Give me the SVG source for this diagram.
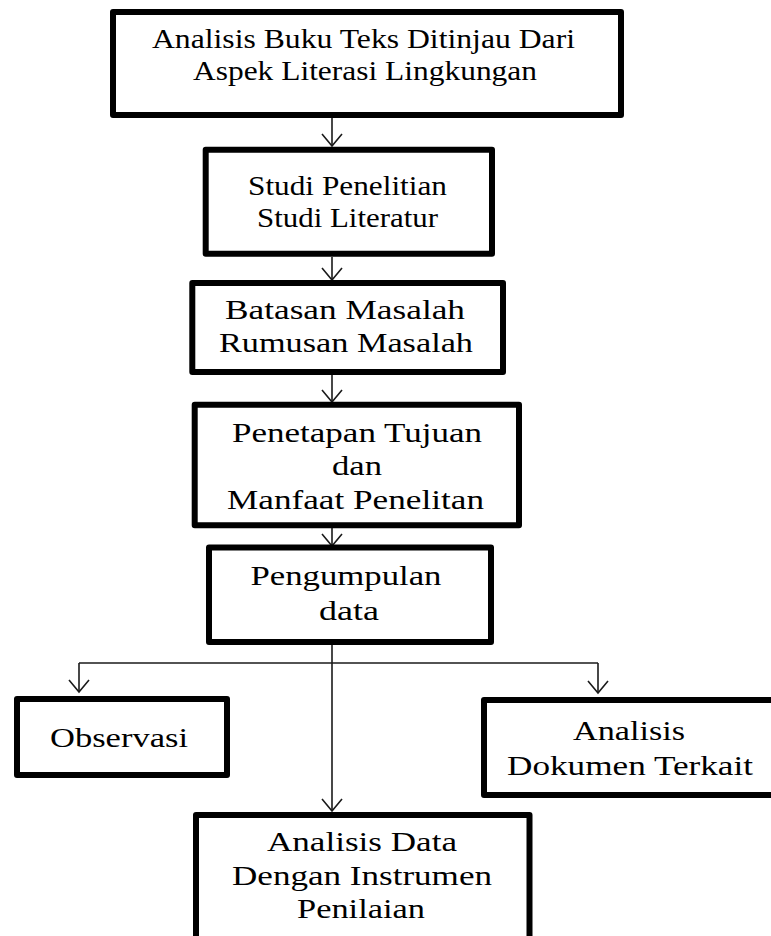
<svg xmlns="http://www.w3.org/2000/svg" width="771" height="936" viewBox="0 0 771 936">
  <style>
    .box { fill: #ffffff; stroke: #000000; stroke-width: 6; stroke-linejoin: round; }
    .lbl { font-family: "Liberation Serif", "Times New Roman", serif; font-size: 27px; fill: #000000; }
    .conn { fill: none; stroke: #1a1a1a; stroke-width: 1.6; }
  </style>
  <defs>
    <marker id="arr" viewBox="-14 -12 16 24" markerWidth="16" markerHeight="24" refX="0" refY="0" orient="auto" markerUnits="userSpaceOnUse">
      <path d="M -12 -10 L 0 0 L -12 10" fill="none" stroke="#1a1a1a" stroke-width="1.6"/>
    </marker>
  </defs>
  <rect width="771" height="936" fill="#ffffff"/>

  <g id="connectors">
    <line class="conn" x1="332" y1="118" x2="332" y2="146" marker-end="url(#arr)"/>
    <line class="conn" x1="332" y1="257" x2="332" y2="280" marker-end="url(#arr)"/>
    <line class="conn" x1="332" y1="375" x2="332" y2="402" marker-end="url(#arr)"/>
    <line class="conn" x1="332" y1="528" x2="332" y2="546" marker-end="url(#arr)"/>
    <line class="conn" x1="332" y1="645" x2="332" y2="811" marker-end="url(#arr)"/>
    <line class="conn" x1="79" y1="663" x2="598" y2="663"/>
    <line class="conn" x1="79" y1="663" x2="79" y2="692" marker-end="url(#arr)"/>
    <line class="conn" x1="598" y1="663" x2="598" y2="693" marker-end="url(#arr)"/>
  </g>

  <g id="n1">
    <rect class="box" x="113" y="12" width="508" height="103"/>
    <text class="lbl" x="152" y="48" textLength="423" lengthAdjust="spacingAndGlyphs">Analisis Buku Teks Ditinjau Dari</text>
    <text class="lbl" x="193" y="80" textLength="344" lengthAdjust="spacingAndGlyphs">Aspek Literasi  Lingkungan</text>
  </g>
  <g id="n2">
    <rect class="box" x="205.7" y="149.7" width="286.3" height="104"/>
    <text class="lbl" x="248" y="195" textLength="199" lengthAdjust="spacingAndGlyphs">Studi Penelitian</text>
    <text class="lbl" x="257" y="227" textLength="181" lengthAdjust="spacingAndGlyphs">Studi Literatur</text>
  </g>
  <g id="n3">
    <rect class="box" x="192.3" y="283" width="310.7" height="89"/>
    <text class="lbl" x="225" y="319" textLength="240" lengthAdjust="spacingAndGlyphs">Batasan Masalah</text>
    <text class="lbl" x="219" y="352" textLength="254" lengthAdjust="spacingAndGlyphs">Rumusan Masalah</text>
  </g>
  <g id="n4">
    <rect class="box" x="194.7" y="404.7" width="324.3" height="120.6"/>
    <text class="lbl" x="232" y="442" textLength="250" lengthAdjust="spacingAndGlyphs">Penetapan Tujuan</text>
    <text class="lbl" x="332" y="475" textLength="50" lengthAdjust="spacingAndGlyphs">dan</text>
    <text class="lbl" x="227" y="509" textLength="257" lengthAdjust="spacingAndGlyphs">Manfaat Penelitan</text>
  </g>
  <g id="n5">
    <rect class="box" x="209" y="547.5" width="282" height="94.5"/>
    <text class="lbl" x="250.5" y="585" textLength="191" lengthAdjust="spacingAndGlyphs">Pengumpulan</text>
    <text class="lbl" x="319" y="620" textLength="60" lengthAdjust="spacingAndGlyphs">data</text>
  </g>
  <g id="n6">
    <rect class="box" x="17" y="699" width="210" height="76"/>
    <text class="lbl" x="50" y="747" textLength="138" lengthAdjust="spacingAndGlyphs">Observasi</text>
  </g>
  <g id="n7">
    <rect class="box" x="484" y="700" width="300" height="95"/>
    <text class="lbl" x="573" y="740" textLength="112" lengthAdjust="spacingAndGlyphs">Analisis</text>
    <text class="lbl" x="507" y="775" textLength="246" lengthAdjust="spacingAndGlyphs">Dokumen Terkait</text>
  </g>
  <g id="n8">
    <rect class="box" x="196" y="815" width="333.5" height="130"/>
    <text class="lbl" x="267" y="851" textLength="190" lengthAdjust="spacingAndGlyphs">Analisis Data</text>
    <text class="lbl" x="232" y="885" textLength="260" lengthAdjust="spacingAndGlyphs">Dengan Instrumen</text>
    <text class="lbl" x="297" y="918" textLength="128" lengthAdjust="spacingAndGlyphs">Penilaian</text>
  </g>
</svg>
